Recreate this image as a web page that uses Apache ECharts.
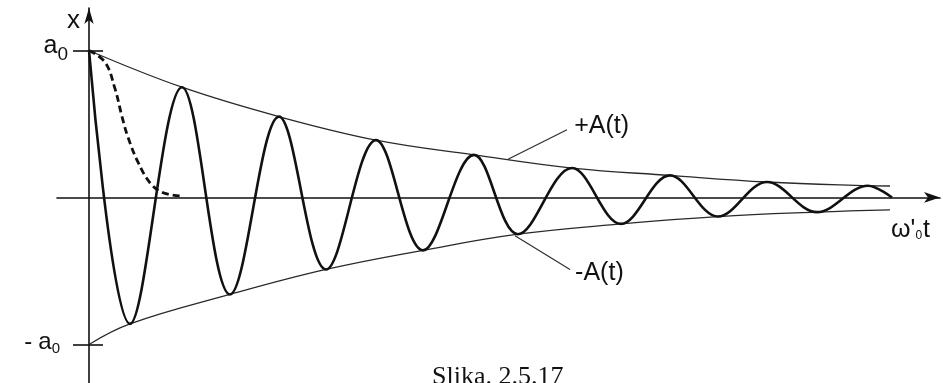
<!DOCTYPE html>
<html>
<head>
<meta charset="utf-8">
<script src="https://cdn.jsdelivr.net/npm/echarts@6/dist/echarts.min.js"></script>
<style>
  html, body { margin: 0; padding: 0; background: #fff; }
  #chart { width: 943px; height: 383px; }
</style>
</head>
<body>
<div id="chart"></div>
<script>
// Damped oscillation x(t): start, successive extrema, and the final return to zero (ω'0·t)
const waveT = [0, 4.1, 9.3, 14.1, 19.0, 23.7, 28.7, 33.4, 38.5, 42.9, 48.3,
  53.2, 58.1, 62.9, 67.8, 72.8, 77.9, 80.3];
const waveX = [1, -0.86, 0.75, -0.66, 0.55, -0.49, 0.39, -0.36, 0.29, -0.25, 0.20,
  -0.18, 0.15, -0.13, 0.105, -0.10, 0.08, 0];

// Aperiodic (overdamped) response, dashed
const dashT = [0, 1.6, 2.6, 3.3, 3.9, 4.9, 6.1, 7.3, 9.1];
const dashX = [1, 0.92, 0.74, 0.55, 0.41, 0.24, 0.10, 0.035, 0.01];

// Envelopes +A(t) and -A(t)
const envUpT = [0, 9.3, 19.0, 28.7, 38.5, 48.3, 58.1, 67.8, 77.9, 80.1];
const envUpA = [1, 0.75, 0.55, 0.39, 0.29, 0.20, 0.15, 0.105, 0.08, 0.078];
const envLoT = [0, 4.1, 14.1, 23.7, 33.4, 42.9, 53.2, 62.9, 72.8, 80.1];
const envLoA = [-1, -0.86, -0.66, -0.49, -0.36, -0.25, -0.18, -0.13, -0.10, -0.085];

// Leader lines for the envelope labels: [start, end] in (t, x)
const upLeader = [[41.9, 0.26], [47.8, 0.46]];
const loLeader = [[42.6, -0.26], [48.1, -0.49]];

// Amplitude marks on the x axis
const ampTicks = [-1, 1];

const zip = (a, b) => a.map((v, i) => [v, b[i]]);
const INK = '#111';

const chart = echarts.init(document.getElementById('chart'), null, { renderer: 'canvas' });
const sans = 'Liberation Sans, Arial, sans-serif';

chart.setOption({
  animation: false,
  backgroundColor: '#fff',
  title: {
    text: 'Slika. 2.5.17',
    left: 427,
    top: 359,
    textStyle: { fontFamily: 'Liberation Serif, Times New Roman, serif', fontSize: 26, fontWeight: 'normal', color: '#111' }
  },
  grid: { left: 57, right: 3, top: 8, bottom: -2, containLabel: false, outerBoundsMode: 'none' },
  xAxis: {
    type: 'value',
    min: -3.2,
    max: 85.1,
    name: "{w|ω'}{s|0}{w|t}",
    nameLocation: 'end',
    nameGap: -10,
    nameTextStyle: {
      align: 'right',
      verticalAlign: 'top',
      padding: [20, 0, 0, 0],
      rich: {
        w: { fontFamily: sans, fontSize: 25, color: INK },
        s: { fontFamily: sans, fontSize: 12, color: INK, padding: [11, 1, 0, 0] }
      }
    },
    axisLine: { onZero: true, symbol: ['none', 'arrow'], symbolSize: [8, 16], lineStyle: { color: INK, width: 1.6 } },
    axisTick: { show: false },
    axisLabel: { show: false },
    splitLine: { show: false }
  },
  yAxis: {
    type: 'value',
    min: -1.276,
    max: 1.289,
    name: 'x',
    nameLocation: 'end',
    nameGap: -14,
    nameTextStyle: { fontFamily: sans, fontSize: 26, color: INK, align: 'right', verticalAlign: 'middle', padding: [0, 9, 0, 0] },
    axisLine: { onZero: true, symbol: ['none', 'arrow'], symbolSize: [7, 16], lineStyle: { color: INK, width: 1.6 } },
    axisTick: { show: true, customValues: ampTicks, length: 16, lineStyle: { color: INK, width: 1.6 } },
    axisLabel: {
      customValues: ampTicks,
      margin: -11,
      formatter: v => v > 0 ? '{a|a}{s|0}' : '{m|-}{an|a}{sn|0}{g|}',
      rich: {
        a: { fontFamily: sans, fontSize: 25, color: INK, padding: [0, 0, 8, 0] },
        s: { fontFamily: sans, fontSize: 19, color: INK, padding: [8, 0, 0, 0] },
        m: { fontFamily: sans, fontSize: 24, color: INK, padding: [0, 6, 4, 0] },
        an: { fontFamily: sans, fontSize: 24, color: INK, padding: [0, 0, 4, 0] },
        sn: { fontFamily: sans, fontSize: 15, color: INK, padding: [8, 0, 0, 0] },
        g: { width: 8 }
      }
    },
    splitLine: { show: false }
  },
  series: [
    {
      name: 'x(t)',
      type: 'line',
      smooth: 0.36,
      showSymbol: false,
      data: zip(waveT, waveX),
      lineStyle: { color: INK, width: 2.6 },
      z: 3
    },
    {
      name: 'aperiodic',
      type: 'line',
      smooth: 0.4,
      showSymbol: false,
      data: zip(dashT, dashX),
      lineStyle: { color: INK, width: 2.8, type: [7, 4] },
      z: 3
    },
    {
      name: '+A(t)',
      type: 'line',
      smooth: 0.4,
      showSymbol: false,
      data: zip(envUpT, envUpA),
      lineStyle: { color: '#2a2a2a', width: 1.3 },
      markLine: {
        silent: true,
        symbol: ['none', 'none'],
        lineStyle: { color: '#2a2a2a', width: 1.1, type: 'solid' },
        label: { show: true, position: 'end', distance: 8, formatter: '+A(t)', fontFamily: sans, fontSize: 25, color: INK },
        data: [[{ coord: upLeader[0] }, { coord: upLeader[1] }]]
      },
      z: 2
    },
    {
      name: '-A(t)',
      type: 'line',
      smooth: 0.4,
      showSymbol: false,
      data: zip(envLoT, envLoA),
      lineStyle: { color: '#2a2a2a', width: 1.3 },
      markLine: {
        silent: true,
        symbol: ['none', 'none'],
        lineStyle: { color: '#2a2a2a', width: 1.1, type: 'solid' },
        label: { show: true, position: 'end', distance: 6, formatter: '-A(t)', fontFamily: sans, fontSize: 25, color: INK },
        data: [
          [{ coord: loLeader[0] }, { coord: loLeader[1] }]
        ]
      },
      z: 2
    },
    {
      // right-hand halves of the ±a0 tick marks
      name: 'ticks',
      type: 'line',
      data: [],
      markLine: {
        silent: true,
        symbol: ['none', 'none'],
        label: { show: false },
        lineStyle: { color: INK, width: 1.6, type: 'solid' },
        data: ampTicks.map(a => [{ coord: [0, a] }, { coord: [1.4, a] }])
      }
    }
  ]
});
</script>
</body>
</html>
